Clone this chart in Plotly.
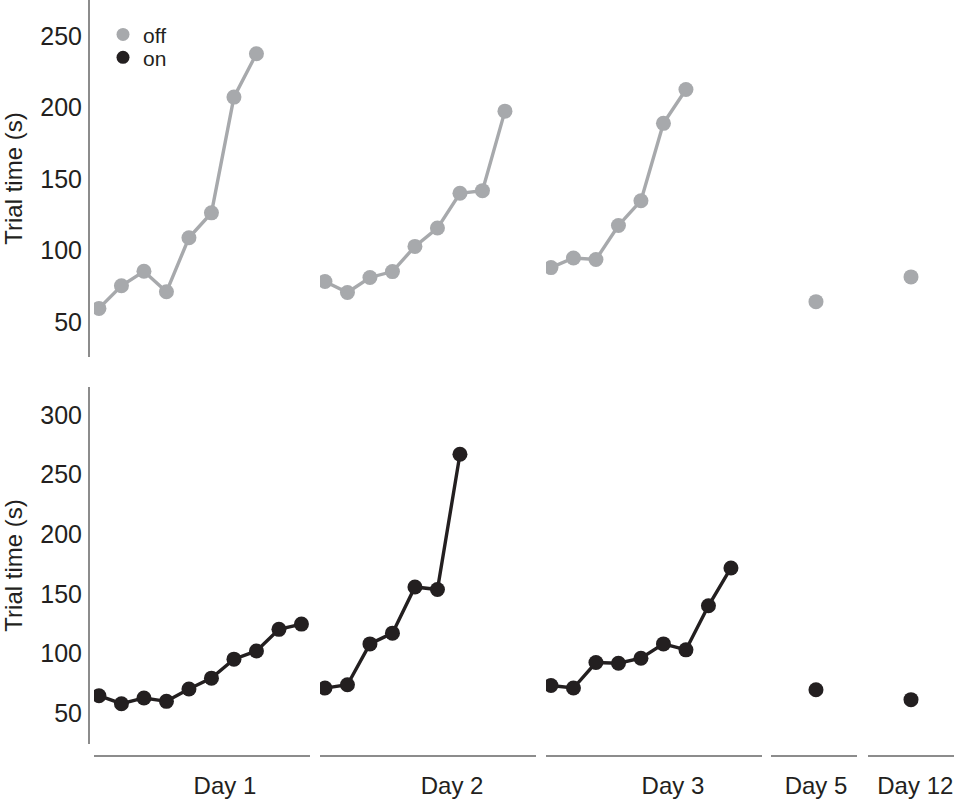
import plotly.graph_objects as go

# ---- data ----
days = ["Day 1", "Day 2", "Day 3", "Day 5", "Day 12"]

off_day1 = [59.7, 75.5, 85.6, 71.3, 109, 126.4, 207.2, 237.5]
off_day2 = [78.5, 70.8, 81.3, 85.4, 103, 115.8, 140.1, 141.9, 197.4]
off_day3 = [88.2, 94.9, 93.8, 117.6, 134.9, 188.9, 212.5]
off_day5 = [64.4]
off_day12 = [81.7]

on_day1 = [64.7, 58.0, 62.8, 60.0, 70.3, 79.4, 95.3, 102.2, 120.3, 124.7]
on_day2 = [71.1, 73.9, 108.1, 117.1, 155.8, 153.6, 266.9]
on_day3 = [73.3, 71.1, 92.5, 91.9, 96.1, 108.1, 103.1, 140.0, 171.7]
on_day5 = [69.7]
on_day12 = [61.4]

off_series = [off_day1, off_day2, off_day3, off_day5, off_day12]
on_series = [on_day1, on_day2, on_day3, on_day5, on_day12]

top_ticks = [50, 100, 150, 200, 250]
bottom_ticks = [50, 100, 150, 200, 250, 300]

# ---- styling ----
GRAY = "#a7a9ac"
BLACK = "#231f20"
AXIS = "#8c8c8c"
FONT = "Liberation Sans, Arial, Helvetica, sans-serif"

W, H = 954, 799
ML, MB = 89, 39
PW, PH = W - ML, H - MB


def fx(px):
    return (px - ML) / PW


def fy(py):
    return (PH - py) / PH


col_px = [(94, 310), (320, 536), (546, 762), (771, 857), (868, 954)]
col_range = [[0.78, 10.38], [0.78, 10.38], [0.78, 10.38], [0.477, 1.477], [0.5, 1.5]]
label_pos = [6.6, 6.65, 6.42, 1.0, 1.05]

fig = go.Figure()

for i in range(5):
    xa = "x" if i == 0 else f"x{i+1}"
    for series, color, ya in ((off_series, GRAY, "y"), (on_series, BLACK, "y2")):
        vals = series[i]
        trials = list(range(1, len(vals) + 1))
        fig.add_trace(go.Scatter(
            x=trials, y=vals, xaxis=xa, yaxis=ya,
            mode="lines+markers" if len(vals) > 1 else "markers",
            line=dict(color=color, width=3.4),
            marker=dict(color=color, size=15),
            showlegend=False, hoverinfo="x+y",
        ))

# legend entries (markers only)
fig.add_trace(go.Scatter(x=[None], y=[None], mode="markers", name="off",
                         marker=dict(color=GRAY, size=13), legend="legend"))
fig.add_trace(go.Scatter(x=[None], y=[None], mode="markers", name="on",
                         marker=dict(color=BLACK, size=13), legend="legend2"))

layout = dict(
    width=W, height=H,
    margin=dict(l=ML, r=0, t=0, b=MB),
    paper_bgcolor="white", plot_bgcolor="white",
    font=dict(family=FONT, size=23, color=BLACK),
    showlegend=True,
    legend=dict(x=fx(103), y=fy(35), xanchor="left", yanchor="middle",
                font=dict(size=21), bgcolor="rgba(0,0,0,0)"),
    legend2=dict(x=fx(103), y=fy(58), xanchor="left", yanchor="middle",
                 font=dict(size=21), bgcolor="rgba(0,0,0,0)"),
)

for i in range(5):
    key = "xaxis" if i == 0 else f"xaxis{i+1}"
    a, b = col_px[i]
    layout[key] = dict(
        domain=[fx(a), fx(b)], range=col_range[i], anchor="free", position=0,
        showline=True, linecolor=AXIS, linewidth=2, ticks="",
        tickvals=[label_pos[i]], ticktext=[days[i]], ticklabelstandoff=8,
        tickfont=dict(size=24), ticklabeloverflow="allow",
        showgrid=False, zeroline=False, fixedrange=True,
    )

layout["yaxis"] = dict(
    domain=[fy(359), 1.0], range=[25.7, 275], anchor="free", position=0,
    showline=True, linecolor=AXIS, linewidth=2, ticks="",
    tickvals=top_ticks, ticklabelstandoff=1, tickfont=dict(size=25),
    showgrid=False, zeroline=False,
    title=dict(text="Trial time (s)", font=dict(size=24), standoff=16),
)
layout["yaxis2"] = dict(
    domain=[fy(748), fy(389)], range=[24.2, 323.3], anchor="free", position=0,
    showline=True, linecolor=AXIS, linewidth=2, ticks="",
    tickvals=bottom_ticks, ticklabelstandoff=1, tickfont=dict(size=25),
    showgrid=False, zeroline=False,
    title=dict(text="Trial time (s)", font=dict(size=24), standoff=16),
)

fig.update_layout(**layout)
fig.write_html("out.html", config={"displayModeBar": False},
               post_script="document.body.style.margin='0';")
